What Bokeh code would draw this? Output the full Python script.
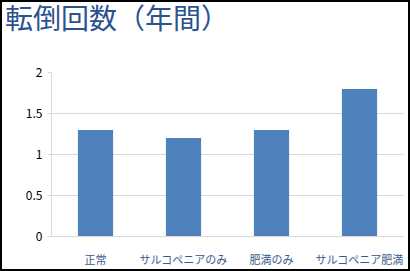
from bokeh.plotting import figure
from bokeh.models import Range1d, FixedTicker, Div
from bokeh.layouts import column
from bokeh.embed import file_html
from bokeh.resources import INLINE

categories = ["正常", "サルコペニアのみ", "肥満のみ", "サルコペニア肥満"]
values = [1.3, 1.2, 1.3, 1.8]
y_ticks = [0, 0.5, 1, 1.5, 2]
title_text = "転倒回数（年間）"

FONT = "Noto Sans CJK JP"

title = Div(text=('<div style="font-family: \'Noto Sans CJK JP\'; font-size: 28px; '
                  'color: #2B5290; line-height: 30px; margin-left: 3px; '
                  'white-space: nowrap;">' + title_text + '</div>'),
            width=406, height=60, margin=0)

p = figure(width=406, height=207, x_range=categories, y_range=Range1d(0, 2),
           output_backend="svg", toolbar_location=None,
           min_border_left=49, min_border_right=5, min_border_top=10, min_border_bottom=32)

p.vbar(x=categories, top=values, width=0.4, fill_color="#4F81BD", line_color=None)

p.outline_line_color = None
p.xgrid.grid_line_color = None
p.ygrid.grid_line_color = "#D9D9D9"
p.ygrid.ticker = FixedTicker(ticks=y_ticks)

p.yaxis.ticker = FixedTicker(ticks=y_ticks)
p.yaxis.major_label_overrides = {0: "0", 0.5: "0.5", 1: "1", 1.5: "1.5", 2: "2"}
p.yaxis.axis_line_color = "#D9D9D9"
p.yaxis.major_tick_line_color = "#D9D9D9"
p.yaxis.major_tick_out = 4
p.yaxis.major_tick_in = 0
p.yaxis.minor_tick_line_color = None
p.yaxis.major_label_standoff = 5
p.yaxis.major_label_text_font = FONT
p.yaxis.major_label_text_font_size = "12px"
p.yaxis.major_label_text_color = "#000000"

p.xaxis.axis_line_color = "#D9D9D9"
p.xaxis.major_tick_line_color = None
p.xaxis.minor_tick_line_color = None
p.xaxis.major_label_standoff = 8
p.xaxis.major_label_text_font = FONT
p.xaxis.major_label_text_font_size = "11px"
p.xaxis.major_label_text_color = "#3A5A8C"

layout = column(title, p, spacing=0,
                styles={"border": "2px solid black", "background-color": "white"})

open("out.html", "w").write(file_html(layout, INLINE))
